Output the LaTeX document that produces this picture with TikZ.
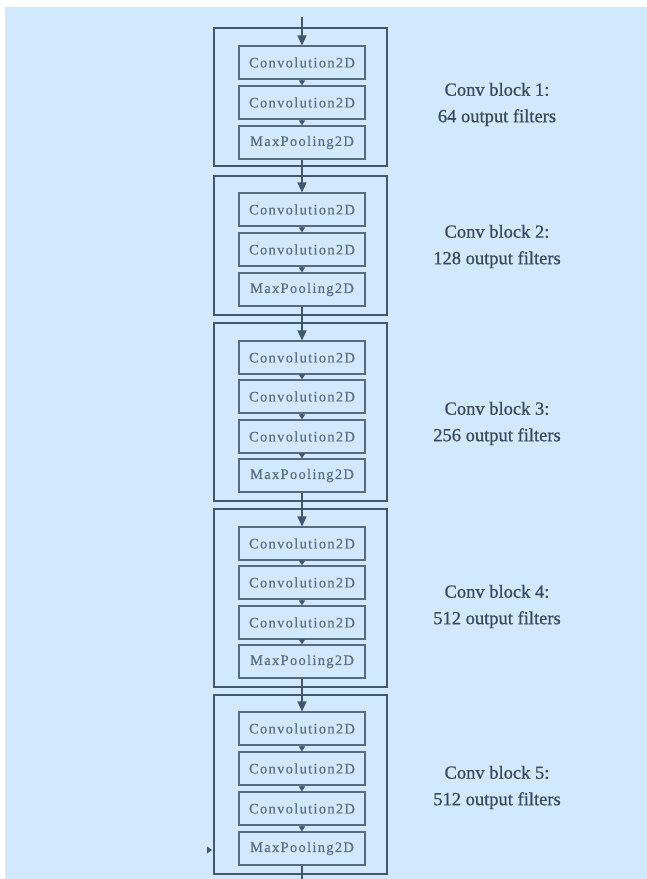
\documentclass[tikz,border=0pt]{standalone}
\usepackage{fontspec}
\setmainfont{Liberation Serif}
\newfontfamily\boxfont[LetterSpace=9,FakeBold=0.4]{Liberation Serif}
\newfontfamily\labfont[FakeBold=0.7]{Liberation Serif}
\usetikzlibrary{arrows.meta}
\definecolor{bgblue}{RGB}{208,233,252}
\definecolor{linec}{RGB}{62,88,112}
\definecolor{innerc}{RGB}{84,108,130}
\definecolor{boxtext}{RGB}{92,110,128}
\definecolor{labtext}{RGB}{58,72,88}
\begin{document}
\begin{tikzpicture}[x=1bp,y=-1bp,
  layer/.style={draw=innerc, line width=1.1bp, minimum width=126bp, minimum height=33bp, inner sep=0pt,
    font=\boxfont\fontsize{14.5bp}{16bp}\selectfont, text=boxtext},
  block/.style={draw=linec, line width=2bp, inner sep=0pt},
  flow/.style={draw=linec, line width=1.4bp, -{Triangle[length=10bp,width=9bp]}},
  smallflow/.style={draw=linec, line width=1.2bp, -{Triangle[length=5bp,width=6bp]}},
  plainline/.style={draw=linec, line width=1.4bp},
  lab/.style={text=labtext, font=\labfont\fontsize{18.5bp}{26.5bp}\selectfont, align=center}]
\useasboundingbox (0,0) rectangle (647,879);
\fill[bgblue] (5,7) rectangle (647,879);

% outer blocks
\node[block, minimum width=173bp, minimum height=138bp] (b1) at (300.5,97) {};
\node[block, minimum width=173bp, minimum height=139bp] (b2) at (300.5,245.5) {};
\node[block, minimum width=173bp, minimum height=178bp] (b3) at (300.5,412) {};
\node[block, minimum width=173bp, minimum height=178bp] (b4) at (300.5,598) {};
\node[block, minimum width=173bp, minimum height=179bp] (b5) at (300.5,784.5) {};

% block 1
\node[layer] (c11) at (302,62.5) {Convolution2D};
\node[layer] (c12) at (302,102.5) {Convolution2D};
\node[layer] (p1) at (302,142.5) {MaxPooling2D};
% block 2
\node[layer] (c21) at (302,209.5) {Convolution2D};
\node[layer] (c22) at (302,249.5) {Convolution2D};
\node[layer] (p2) at (302,289.5) {MaxPooling2D};
% block 3
\node[layer] (c31) at (302,357.5) {Convolution2D};
\node[layer] (c32) at (302,396.5) {Convolution2D};
\node[layer] (c33) at (302,436.5) {Convolution2D};
\node[layer] (p3) at (302,475.5) {MaxPooling2D};
% block 4
\node[layer] (c41) at (302,543.5) {Convolution2D};
\node[layer] (c42) at (302,582.5) {Convolution2D};
\node[layer] (c43) at (302,622.5) {Convolution2D};
\node[layer] (p4) at (302,661.5) {MaxPooling2D};
% block 5
\node[layer] (c51) at (302,728.5) {Convolution2D};
\node[layer] (c52) at (302,768.5) {Convolution2D};
\node[layer] (c53) at (302,808.5) {Convolution2D};
\node[layer] (p5) at (302,848.5) {MaxPooling2D};

% labels
\node[lab] (l1) at (497,104.5) {Conv block 1:\\64 output filters};
\node[lab] (l2) at (497,246.5) {Conv block 2:\\128 output filters};
\node[lab] (l3) at (497,423.5) {Conv block 3:\\256 output filters};
\node[lab] (l4) at (497,606.5) {Conv block 4:\\512 output filters};
\node[lab] (l5) at (497,787.5) {Conv block 5:\\512 output filters};

% connectors
\coordinate (top) at (302,17);
\coordinate (bot) at (302,879);
\draw[flow] (top) -- (c11.north);
\draw[smallflow] (c11.south) -- (c12.north);
\draw[smallflow] (c12.south) -- (p1.north);
\draw[flow] (p1.south) -- (c21.north);
\draw[smallflow] (c21.south) -- (c22.north);
\draw[smallflow] (c22.south) -- (p2.north);
\draw[flow] (p2.south) -- (c31.north);
\draw[smallflow] (c31.south) -- (c32.north);
\draw[smallflow] (c32.south) -- (c33.north);
\draw[smallflow] (c33.south) -- (p3.north);
\draw[flow] (p3.south) -- (c41.north);
\draw[smallflow] (c41.south) -- (c42.north);
\draw[smallflow] (c42.south) -- (c43.north);
\draw[smallflow] (c43.south) -- (p4.north);
\draw[flow] (p4.south) -- (c51.north);
\draw[smallflow] (c51.south) -- (c52.north);
\draw[smallflow] (c52.south) -- (c53.north);
\draw[smallflow] (c53.south) -- (p5.north);
\draw[plainline] (p5.south) -- (bot);

% small stray arrowhead at left of block 5
\fill[linec] (207,846.5) -- (212,850) -- (207,853.5) -- cycle;
\end{tikzpicture}
\end{document}
